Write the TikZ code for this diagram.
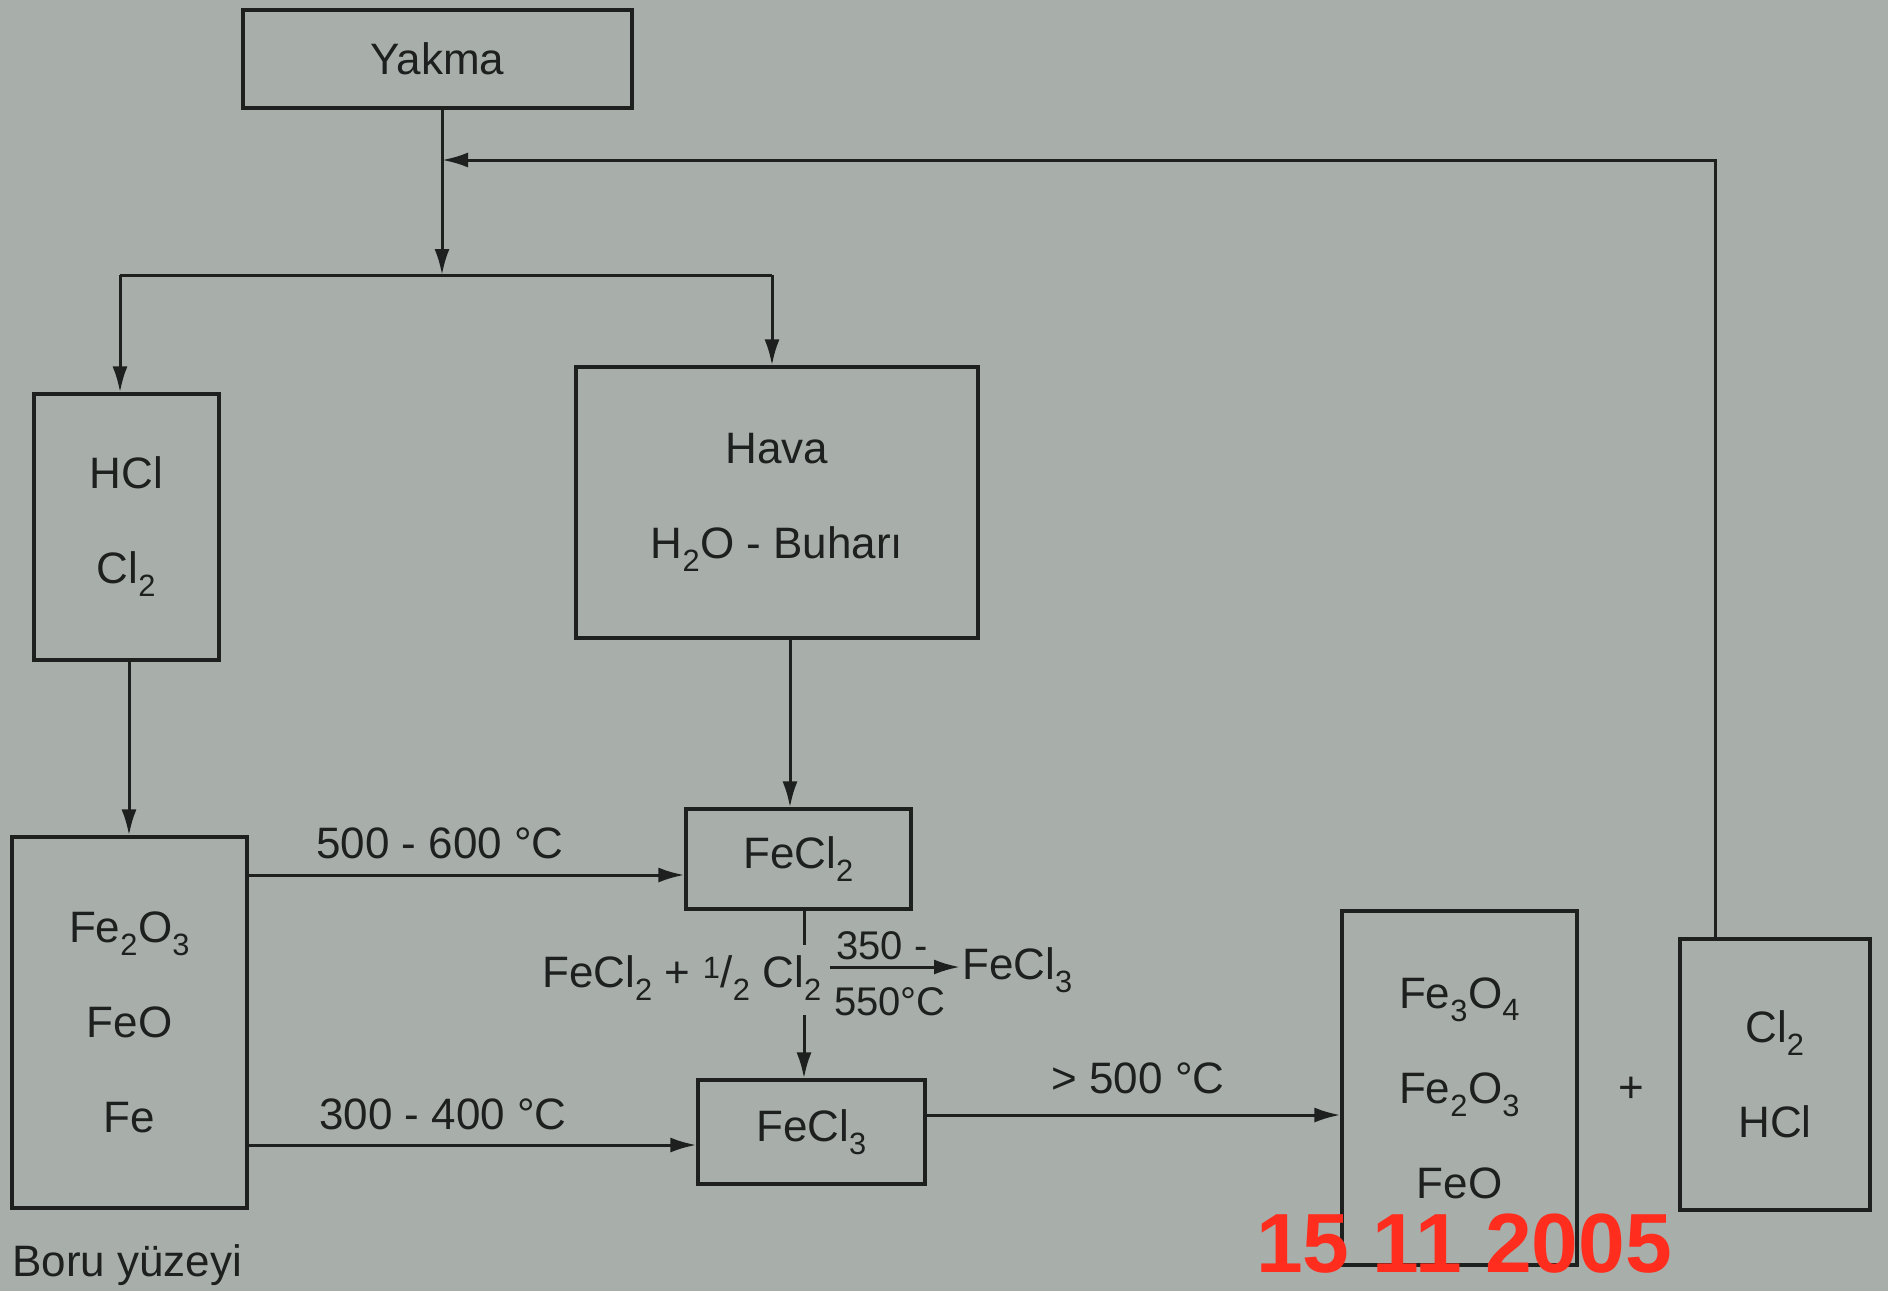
\documentclass[tikz,border=0pt]{standalone}
\usepackage{fontspec}
\setmainfont{Liberation Sans}
\usetikzlibrary{arrows.meta}
\definecolor{bgcol}{RGB}{168,175,171}
\definecolor{ink}{RGB}{30,32,32}
\definecolor{stamp}{RGB}{255,45,30}
\newcommand\chs[1]{\textsubscript{#1}}
\tikzset{
  box/.style={draw=ink, line width=3.2pt, inner sep=0pt, align=center, text=ink,
    font=\fontsize{44}{95}\selectfont},
  lbl/.style={inner sep=0pt, text=ink, font=\fontsize{44}{48}\selectfont},
  small/.style={inner sep=0pt, text=ink, font=\fontsize{40}{44}\selectfont},
  conn/.style={draw=ink, line width=3pt},
  arr/.style={conn, -{Latex[length=26pt,width=15pt]}},
}
\begin{document}
\begin{tikzpicture}[x=1pt,y=-1pt]
\fill[bgcol] (0,0) rectangle (1888,1291);
\useasboundingbox (0,0) rectangle (1888,1291);
\clip (0,0) rectangle (1888,1291);

% boxes
\node[box, minimum width=389pt, minimum height=98pt] (yakma) at (437.5,59) {Yakma};
\node[box, minimum width=185pt, minimum height=266pt] (hcl) at (126.5,527) {HCl\\Cl\chs{2}};
\node[box, minimum width=402pt, minimum height=271pt] (hava) at (777,502.5) {Hava\\H\chs{2}O - Buharı};
\node[box, minimum width=235pt, minimum height=371pt] (fe) at (129.5,1022.5) {Fe\chs{2}O\chs{3}\\FeO\\Fe};
\node[box, minimum width=225pt, minimum height=100pt] (fecl2) at (798.5,859) {FeCl\chs{2}};
\node[box, minimum width=227pt, minimum height=104pt] (fecl3) at (811.5,1132) {FeCl\chs{3}};
\node[box, minimum width=235pt, minimum height=354pt] (prod) at (1459.5,1088) {Fe\chs{3}O\chs{4}\\Fe\chs{2}O\chs{3}\\FeO};
\node[box, minimum width=190pt, minimum height=271pt] (gas) at (1775,1074.5) {Cl\chs{2}\\HCl};
\node[lbl] (plus) at (1631,1090) {+};

% junction coordinates
\coordinate (join) at (442,160);
\coordinate (split) at (442,275);
\coordinate (splitL) at (120,275);
\coordinate (splitR) at (772,275);
\coordinate (fbtop) at (1715,160);

% top flow
\draw[arr] (yakma.south -| join) -- (split);
\draw[conn] (splitL) -- (splitR);
\draw[arr] (splitL) -- (splitL |- hcl.north);
\draw[arr] (splitR) -- (splitR |- hava.north);
% feedback
\draw[arr] (gas.north -| fbtop) -- (fbtop) -- (join);

% down arrows
\coordinate (hd) at (129,700);
\draw[arr] (hd |- hcl.south) -- (hd |- fe.north);
\coordinate (vd) at (790,700);
\draw[arr] (vd |- hava.south) -- (vd |- fecl2.north);

% horizontal arrows
\coordinate (a1) at (500,875);
\draw[arr] (fe.east |- a1) -- (fecl2.west |- a1);
\node[lbl] (t1) at (440,843) {500 - 600 °C};
\coordinate (a2) at (500,1145);
\draw[arr] (fe.east |- a2) -- (fecl3.west |- a2);
\node[lbl] (t2) at (443,1114) {300 - 400 °C};
\coordinate (a3) at (1100,1115);
\draw[arr] (fecl3.east |- a3) -- (prod.west |- a3);
\node[lbl] (t3) at (1138,1078) {> 500 °C};

% reaction
\coordinate (v1) at (804,945);
\coordinate (v2) at (804,1015);
\draw[conn] (v1 |- fecl2.south) -- (v1);
\draw[arr] (v2) -- (v2 |- fecl3.north);
\node[lbl, anchor=east] (rxl) at (822,978) {FeCl\chs{2} + \textsuperscript{1}/\chs{2} Cl\chs{2}};
\coordinate (ra1) at (830,967);
\coordinate (ra2) at (960,967);
\draw[arr] (ra1) -- (ra2);
\node[small] (c1) at (882,946) {350 -};
\node[small] (c2) at (890,1002) {550°C};
\node[lbl, anchor=west] (rxr) at (962,970) {FeCl\chs{3}};

% caption and stamp
\node[lbl, anchor=base west] (boru) at (12,1276) {Boru  yüzeyi};
\node[inner sep=0pt, anchor=north west, text=stamp, font=\fontsize{84}{90}\selectfont\bfseries] (date) at (1256,1214) {15 11 2005};
\end{tikzpicture}
\end{document}
